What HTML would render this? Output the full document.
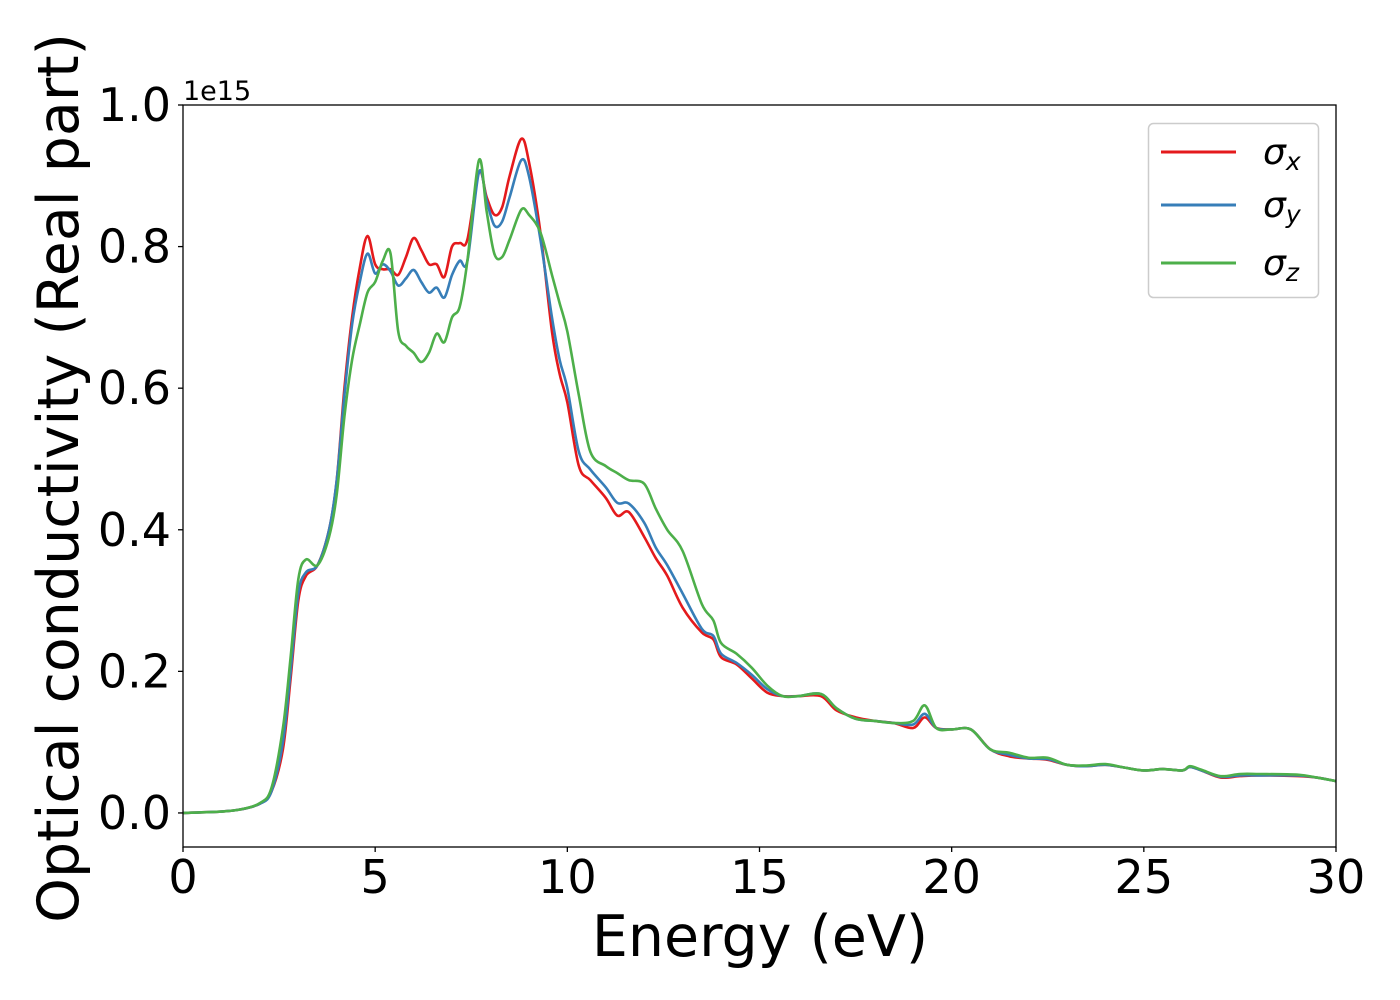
<!DOCTYPE html>
<html><head><meta charset="utf-8">
<style>
html,body{margin:0;padding:0;background:#fff;}
svg{display:block;font-family:"DejaVu Sans","Liberation Sans",sans-serif;}
</style></head>
<body>
<svg id="chart" width="1400" height="1000" viewBox="0 0 1400 1000" xmlns="http://www.w3.org/2000/svg">
<rect width="1400" height="1000" fill="#fff"/>
<g id="plot"></g>
<g id="axes"></g>
<text x="183" y="100" font-size="27" fill="#000">1e15</text>
<text x="760" y="956" font-size="57" text-anchor="middle" fill="#000">Energy (eV)</text>
<text transform="translate(78,478) rotate(-90)" font-size="57" text-anchor="middle" fill="#000">Optical conductivity (Real part)</text>
<g>
<rect x="1148.5" y="123.5" width="170" height="174" rx="5" fill="#fff" stroke="#ccc" stroke-width="1.5"/>
<g>
<line x1="1161" y1="152" x2="1236" y2="152" stroke="#e41a1c" stroke-width="3"/>
<text x="1263" y="164" font-size="36" font-style="italic" fill="#000">σ<tspan font-size="25" dy="6">x</tspan></text></g>
<g>
<line x1="1161" y1="205" x2="1236" y2="205" stroke="#377eb8" stroke-width="3"/>
<text x="1263" y="217" font-size="36" font-style="italic" fill="#000">σ<tspan font-size="25" dy="6">y</tspan></text></g>
<g>
<line x1="1161" y1="263" x2="1236" y2="263" stroke="#4daf4a" stroke-width="3"/>
<text x="1263" y="275" font-size="36" font-style="italic" fill="#000">σ<tspan font-size="25" dy="6">z</tspan></text></g>
</g>
</svg>
<script>
const energy=[0,1,1.5,2,2.3,2.6,2.8,3.0,3.2,3.5,3.8,4.0,4.2,4.4,4.6,4.8,5.0,5.2,5.4,5.6,5.8,6.0,6.2,6.4,6.6,6.8,7.0,7.2,7.4,7.7,7.9,8.1,8.3,8.5,8.8,9.0,9.3,9.6,9.8,10.0,10.3,10.6,11.0,11.3,11.6,12.0,12.3,12.6,13.0,13.5,13.8,14.0,14.4,14.8,15.2,15.6,16,16.6,17,17.5,18,18.5,19,19.3,19.6,20,20.5,21,21.5,22,22.5,23,23.5,24,24.5,25,25.5,26,26.2,26.5,27,27.5,28,29,29.5,30];
const sigmaX=[0,.002,.005,.013,.03,.09,.19,.3,.335,.35,.40,.47,.6,.7,.77,.815,.775,.768,.768,.76,.785,.812,.795,.775,.775,.757,.8,.805,.81,.905,.87,.845,.855,.9,.952,.92,.82,.68,.62,.58,.49,.47,.445,.42,.425,.39,.36,.335,.29,.255,.245,.22,.21,.19,.17,.165,.165,.165,.145,.135,.13,.127,.12,.135,.12,.118,.118,.09,.08,.077,.075,.068,.066,.068,.064,.06,.062,.06,.065,.06,.05,.052,.053,.052,.05,.045];
const sigmaY=[0,.002,.005,.013,.03,.1,.2,.31,.34,.35,.40,.47,.59,.69,.75,.79,.762,.775,.765,.745,.755,.767,.75,.735,.742,.728,.76,.78,.78,.905,.865,.83,.835,.87,.922,.9,.81,.7,.64,.6,.51,.485,.46,.438,.437,.41,.375,.35,.31,.26,.25,.225,.212,.195,.175,.165,.165,.168,.148,.133,.13,.127,.125,.14,.12,.118,.118,.09,.082,.077,.076,.068,.066,.068,.064,.06,.062,.06,.065,.06,.051,.053,.053,.053,.05,.045];
const sigmaZ=[0,.002,.005,.014,.035,.12,.22,.33,.358,.35,.39,.45,.56,.64,.69,.735,.75,.78,.79,.68,.66,.65,.637,.65,.677,.665,.7,.715,.78,.922,.85,.79,.785,.81,.852,.845,.82,.76,.72,.68,.59,.51,.49,.48,.47,.465,.43,.4,.37,.295,.272,.24,.225,.205,.18,.165,.165,.168,.148,.133,.13,.127,.13,.152,.12,.118,.118,.09,.085,.078,.078,.068,.067,.069,.064,.06,.062,.06,.066,.061,.052,.055,.055,.054,.05,.045];
const xTicks=[0,5,10,15,20,25,30];
const yTicks=[0,0.2,0.4,0.6,0.8,1.0];
const yTickLabels=["0.0","0.2","0.4","0.6","0.8","1.0"];

const X0=183,X1=1336,YT=105,YB=847;
const xMin=0,xMax=30,yMin=-0.0481,yMax=1.0;
function sx(v){return X0+(v-xMin)/(xMax-xMin)*(X1-X0);}
function sy(v){return YB-(v-yMin)/(yMax-yMin)*(YB-YT);}
const NS="http://www.w3.org/2000/svg";
const plot=document.getElementById('plot');
const axes=document.getElementById('axes');

function pathFor(ys){
  const p=energy.map((e,i)=>[sx(e),sy(ys[i])]);
  let d="M"+p[0][0].toFixed(2)+","+p[0][1].toFixed(2);
  for(let i=0;i<p.length-1;i++){
    const a=p[Math.max(0,i-1)],b=p[i],c=p[i+1],n=p[Math.min(p.length-1,i+2)];
    const c1x=b[0]+(c[0]-a[0])/6,c1y=b[1]+(c[1]-a[1])/6;
    const c2x=c[0]-(n[0]-b[0])/6,c2y=c[1]-(n[1]-b[1])/6;
    d+=" C"+c1x.toFixed(2)+","+c1y.toFixed(2)+" "+c2x.toFixed(2)+","+c2y.toFixed(2)+" "+c[0].toFixed(2)+","+c[1].toFixed(2);
  }
  return d;
}
const series=[[sigmaX,"#e41a1c","line-sigma-x"],[sigmaY,"#377eb8","line-sigma-y"],[sigmaZ,"#4daf4a","line-sigma-z"]];
series.forEach(s=>{
  const el=document.createElementNS(NS,"path");
  
  
  el.setAttribute("d",pathFor(s[0]));
  el.setAttribute("fill","none");
  el.setAttribute("stroke",s[1]);
  el.setAttribute("stroke-width","2.6");
  el.setAttribute("stroke-linejoin","round");
  plot.appendChild(el);
});

const frame=document.createElementNS(NS,"rect");


frame.setAttribute("x",X0);frame.setAttribute("y",YT);
frame.setAttribute("width",X1-X0);frame.setAttribute("height",YB-YT);
frame.setAttribute("fill","none");frame.setAttribute("stroke","#000");frame.setAttribute("stroke-width","1.3");
axes.appendChild(frame);

xTicks.forEach(t=>{
  const x=sx(t);
  const tk=document.createElementNS(NS,"line");
  
  
  tk.setAttribute("x1",x);tk.setAttribute("x2",x);tk.setAttribute("y1",YB);tk.setAttribute("y2",YB+5);
  tk.setAttribute("stroke","#000");tk.setAttribute("stroke-width","1.3");
  axes.appendChild(tk);
  const tx=document.createElementNS(NS,"text");
  
  
  tx.setAttribute("x",x);tx.setAttribute("y",YB+46);
  tx.setAttribute("font-size","46");tx.setAttribute("text-anchor","middle");
  tx.textContent=String(t);
  axes.appendChild(tx);
});
yTicks.forEach((t,i)=>{
  const y=sy(t);
  const tk=document.createElementNS(NS,"line");
  
  
  tk.setAttribute("x1",X0-5);tk.setAttribute("x2",X0);tk.setAttribute("y1",y);tk.setAttribute("y2",y);
  tk.setAttribute("stroke","#000");tk.setAttribute("stroke-width","1.3");
  axes.appendChild(tk);
  const tx=document.createElementNS(NS,"text");
  
  
  tx.setAttribute("x",X0-12);tx.setAttribute("y",y+16);
  tx.setAttribute("font-size","46");tx.setAttribute("text-anchor","end");
  tx.textContent=yTickLabels[i];
  axes.appendChild(tx);
});
</script>
</body></html>
